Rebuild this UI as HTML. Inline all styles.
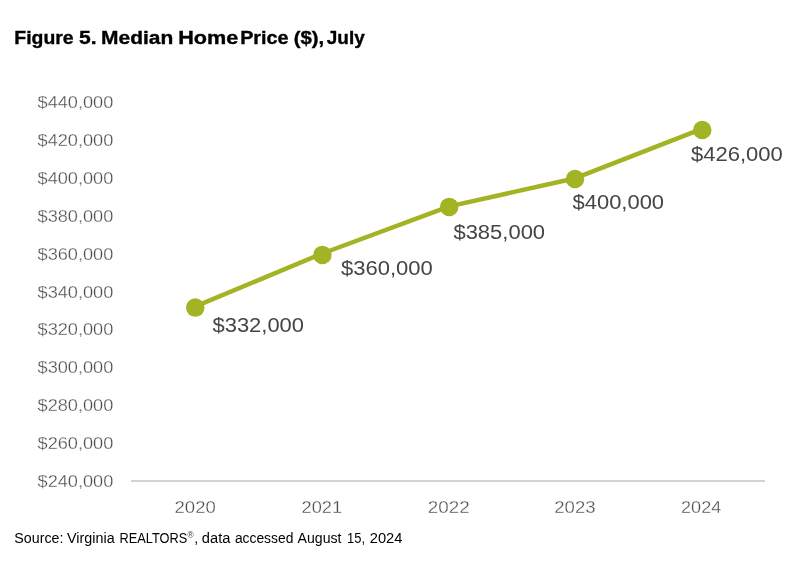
<!DOCTYPE html>
<html><head><meta charset="utf-8"><title>Figure 5. Median Home Price ($), July</title>
<style>
html,body{margin:0;padding:0;background:#fff;}
svg{display:block;font-family:"Liberation Sans",sans-serif;}
</style></head><body>
<svg width="800" height="575" viewBox="0 0 800 575">
<rect width="800" height="575" fill="#fff"/>
<line x1="131" y1="480.9" x2="765" y2="480.9" stroke="#d2d2d2" stroke-width="2"/>
<polyline points="195.4,306.4 322.3,253.5 449.3,206.4 575.4,178.2 702.5,128.6" fill="none" stroke="#a2b424" stroke-width="4.5" stroke-linejoin="round" stroke-linecap="round"/>
<g fill="#a2b424">
<circle cx="195.3" cy="307.6" r="9.25"/>
<circle cx="322.4" cy="254.9" r="9.25"/>
<circle cx="449.2" cy="206.9" r="9.25"/>
<circle cx="575.0" cy="178.95" r="9.25"/>
<circle cx="702.25" cy="130.05" r="9.25"/>
</g>
<text><tspan x="14.35" y="43.70" font-size="18" font-weight="bold" fill="#000" stroke="#000" stroke-width="0.35" textLength="59.34" lengthAdjust="spacingAndGlyphs">Figure</tspan> <tspan x="79.02" y="43.70" font-size="18" font-weight="bold" fill="#000" stroke="#000" stroke-width="0.35" textLength="17.56" lengthAdjust="spacingAndGlyphs">5.</tspan> <tspan x="101.05" y="43.70" font-size="18" font-weight="bold" fill="#000" stroke="#000" stroke-width="0.35" textLength="72.18" lengthAdjust="spacingAndGlyphs">Median</tspan> <tspan x="178.25" y="43.70" font-size="18" font-weight="bold" fill="#000" stroke="#000" stroke-width="0.35" textLength="60.02" lengthAdjust="spacingAndGlyphs">Home</tspan> <tspan x="240.23" y="43.70" font-size="18" font-weight="bold" fill="#000" stroke="#000" stroke-width="0.35" textLength="48.26" lengthAdjust="spacingAndGlyphs">Price</tspan> <tspan x="293.71" y="43.70" font-size="18" font-weight="bold" fill="#000" stroke="#000" stroke-width="0.35" textLength="30.50" lengthAdjust="spacingAndGlyphs">($),</tspan> <tspan x="326.84" y="43.70" font-size="18" font-weight="bold" fill="#000" stroke="#000" stroke-width="0.35" textLength="37.93" lengthAdjust="spacingAndGlyphs">July</tspan></text>
<text x="37.54" y="108.20" font-size="17.3" fill="#4d4d4d" stroke="#fff" stroke-width="0.3" textLength="75.82" lengthAdjust="spacingAndGlyphs">$440,000</text>
<text x="37.54" y="146.08" font-size="17.3" fill="#4d4d4d" stroke="#fff" stroke-width="0.3" textLength="75.82" lengthAdjust="spacingAndGlyphs">$420,000</text>
<text x="37.54" y="183.96" font-size="17.3" fill="#4d4d4d" stroke="#fff" stroke-width="0.3" textLength="75.82" lengthAdjust="spacingAndGlyphs">$400,000</text>
<text x="37.54" y="221.84" font-size="17.3" fill="#4d4d4d" stroke="#fff" stroke-width="0.3" textLength="75.82" lengthAdjust="spacingAndGlyphs">$380,000</text>
<text x="37.54" y="259.72" font-size="17.3" fill="#4d4d4d" stroke="#fff" stroke-width="0.3" textLength="75.82" lengthAdjust="spacingAndGlyphs">$360,000</text>
<text x="37.54" y="297.60" font-size="17.3" fill="#4d4d4d" stroke="#fff" stroke-width="0.3" textLength="75.82" lengthAdjust="spacingAndGlyphs">$340,000</text>
<text x="37.54" y="335.48" font-size="17.3" fill="#4d4d4d" stroke="#fff" stroke-width="0.3" textLength="75.82" lengthAdjust="spacingAndGlyphs">$320,000</text>
<text x="37.54" y="373.36" font-size="17.3" fill="#4d4d4d" stroke="#fff" stroke-width="0.3" textLength="75.82" lengthAdjust="spacingAndGlyphs">$300,000</text>
<text x="37.54" y="411.24" font-size="17.3" fill="#4d4d4d" stroke="#fff" stroke-width="0.3" textLength="75.82" lengthAdjust="spacingAndGlyphs">$280,000</text>
<text x="37.54" y="449.12" font-size="17.3" fill="#4d4d4d" stroke="#fff" stroke-width="0.3" textLength="75.82" lengthAdjust="spacingAndGlyphs">$260,000</text>
<text x="37.54" y="487.00" font-size="17.3" fill="#4d4d4d" stroke="#fff" stroke-width="0.3" textLength="75.82" lengthAdjust="spacingAndGlyphs">$240,000</text>
<text x="174.56" y="513.00" font-size="17.3" fill="#4d4d4d" stroke="#fff" stroke-width="0.3" textLength="41.19" lengthAdjust="spacingAndGlyphs">2020</text>
<text x="301.58" y="513.00" font-size="17.3" fill="#4d4d4d" stroke="#fff" stroke-width="0.3" textLength="40.55" lengthAdjust="spacingAndGlyphs">2021</text>
<text x="427.85" y="513.00" font-size="17.3" fill="#4d4d4d" stroke="#fff" stroke-width="0.3" textLength="41.85" lengthAdjust="spacingAndGlyphs">2022</text>
<text x="554.26" y="513.00" font-size="17.3" fill="#4d4d4d" stroke="#fff" stroke-width="0.3" textLength="41.29" lengthAdjust="spacingAndGlyphs">2023</text>
<text x="681.09" y="513.00" font-size="17.3" fill="#4d4d4d" stroke="#fff" stroke-width="0.3" textLength="40.19" lengthAdjust="spacingAndGlyphs">2024</text>
<text x="212.48" y="331.50" font-size="20.5" fill="#454545" textLength="91.54" lengthAdjust="spacingAndGlyphs">$332,000</text>
<text x="340.98" y="274.70" font-size="20.5" fill="#454545" textLength="91.84" lengthAdjust="spacingAndGlyphs">$360,000</text>
<text x="453.43" y="238.95" font-size="20.5" fill="#454545" textLength="91.69" lengthAdjust="spacingAndGlyphs">$385,000</text>
<text x="572.53" y="208.95" font-size="20.5" fill="#454545" textLength="91.54" lengthAdjust="spacingAndGlyphs">$400,000</text>
<text x="690.98" y="160.95" font-size="20.5" fill="#454545" textLength="91.84" lengthAdjust="spacingAndGlyphs">$426,000</text>
<text><tspan x="14.36" y="542.50" font-size="14" fill="#000" textLength="49.11" lengthAdjust="spacingAndGlyphs">Source:</tspan> <tspan x="67.07" y="542.50" font-size="14" fill="#000" textLength="47.56" lengthAdjust="spacingAndGlyphs">Virginia</tspan> <tspan x="119.47" y="542.50" font-size="14" fill="#000" textLength="67.74" lengthAdjust="spacingAndGlyphs">REALTORS</tspan><tspan x="187.48" y="538.00" font-size="8.5" fill="#333" textLength="6.06" lengthAdjust="spacingAndGlyphs">®</tspan><tspan x="194.30" y="542.50" font-size="14" fill="#000">,</tspan> <tspan x="201.85" y="542.50" font-size="14" fill="#000" textLength="28.55" lengthAdjust="spacingAndGlyphs">data</tspan> <tspan x="234.88" y="542.50" font-size="14" fill="#000" textLength="58.51" lengthAdjust="spacingAndGlyphs">accessed</tspan> <tspan x="297.60" y="542.50" font-size="14" fill="#000" textLength="43.89" lengthAdjust="spacingAndGlyphs">August</tspan> <tspan x="347.08" y="542.50" font-size="14" fill="#000" textLength="17.95" lengthAdjust="spacingAndGlyphs">15,</tspan> <tspan x="369.71" y="542.50" font-size="14" fill="#000" textLength="32.71" lengthAdjust="spacingAndGlyphs">2024</tspan></text>
</svg>
</body></html>
